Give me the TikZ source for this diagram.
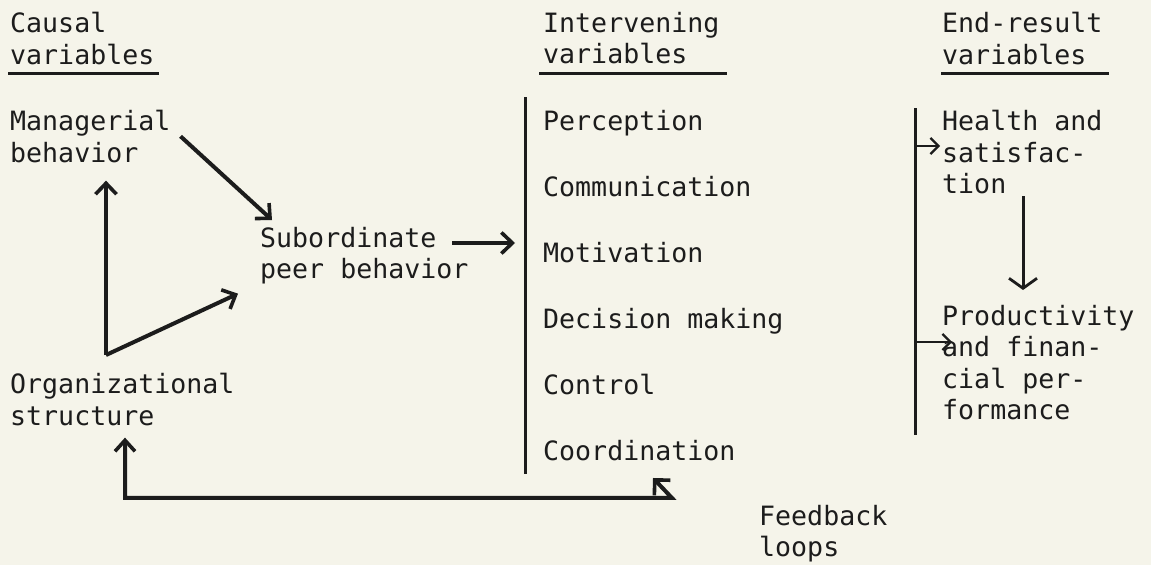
\documentclass[tikz,border=0pt]{standalone}
\usepackage{fontspec}
\setmonofont{DejaVu Sans Mono}
\usetikzlibrary{arrows.meta}
\definecolor{paper}{RGB}{245,244,234}
\definecolor{ink}{RGB}{28,28,28}
\tikzset{
  txt/.style={anchor=north west,inner sep=0pt,align=left,text=ink,
    font=\ttfamily\fontsize{26.6pt}{31.5pt}\selectfont},
  heavyarr/.style={draw=ink,line width=4pt,
    -{Straight Barb[length=11pt,width=21pt,line width=3.6pt]}},
  thinarr/.style={draw=ink,line width=2.8pt,
    -{Straight Barb[length=8pt,width=16pt,line width=2.2pt]}},
  rule/.style={draw=ink,line width=3pt}
}
\begin{document}
\begin{tikzpicture}[x=1pt,y=-1pt]
\fill[paper] (0,0) rectangle (1151,565);
\useasboundingbox (0,0) rectangle (1151,565);

%headings:
\node[txt] (causal) at (10,12) {Causal\\variables};
\node[txt] (interv) at (543,12) {Intervening\\variables};
\node[txt] (endres) at (942,12) {End-result\\variables};
\draw[draw=ink,line width=2.4pt] ([shift={(-2,9)}]causal.south west) -- ([shift={(4,9)}]causal.south east);
\draw[draw=ink,line width=2.4pt] ([shift={(-4,9)}]interv.south west) -- ([shift={(7,9)}]interv.south east);
\draw[draw=ink,line width=2.4pt] ([shift={(-1,9)}]endres.south west) -- ([shift={(6,9)}]endres.south east);

%causal variables:
\node[txt] (mgr) at (10,110) {Managerial\\behavior};
\node[txt] (sub) at (260,227) {Subordinate\\peer behavior};
\node[txt] (org) at (10,373) {Organizational\\structure};
\coordinate (knee) at ([shift={(96,-18)}]org.north west);

\draw[heavyarr] ([xshift=10]mgr.east) -- ([shift={(12,-7)}]sub.north west);
\draw[heavyarr] (knee) -- ([shift={(96,18)}]mgr.south west);
\draw[heavyarr] (knee) -- ([shift={(-22,9)}]sub.south west);

%intervening variables:
\foreach \name/\txt [count=\i from 0] in {perc/Perception,comm/Communication,moti/Motivation,deci/Decision making,cont/Control,coor/Coordination}
        \node[txt] (\name) at (543,110+66*\i) {\txt};
\coordinate (ivtop) at ([shift={(-18,-13)}]perc.north west);
\coordinate (ivbot) at ([shift={(-18,13)}]coor.south west);
\draw[rule] (ivtop) -- (ivbot);

\draw[heavyarr] ([shift={(192,16)}]sub.north west) coordinate (subout) -- ([xshift=-10]subout -| ivtop);

%end-result variables:
\node[txt] (health) at (942,110) {Health and\\satisfac-\\tion};
\node[txt] (prod) at (942,305) {Productivity\\and finan-\\cial per-\\formance};
\coordinate (ertop) at ([shift={(-27,-2)}]health.north west);
\coordinate (erbot) at ([shift={(-27,15)}]prod.south west);
\draw[rule] (ertop) -- (erbot);

\coordinate (hin) at ([shift={(-2,36)}]health.north west);
\coordinate (pin) at ([shift={(10,37)}]prod.north west);
\draw[thinarr] (hin -| ertop) -- (hin);
\draw[thinarr] (pin -| ertop) -- (pin);
\draw[draw=ink,line width=3pt,-{Straight Barb[length=10pt,width=28pt,line width=2.8pt]}]
      ([shift={(81,2)}]health.south west) -- ([shift={(81,-15)}]prod.north west);

%feedback:
\node[txt] (fb) at (759,505) {Feedback\\loops};
\draw[draw=ink,line width=4pt,{Straight Barb[length=11pt,width=20pt,line width=3.6pt]}-{Straight Barb[length=11pt,width=22pt,line width=3.6pt]}]
      ([shift={(115,12)}]org.south west) |- ([shift={(129,37)}]coor.south west) -- ([shift={(110,17)}]coor.south west);
\end{tikzpicture}
\end{document}
